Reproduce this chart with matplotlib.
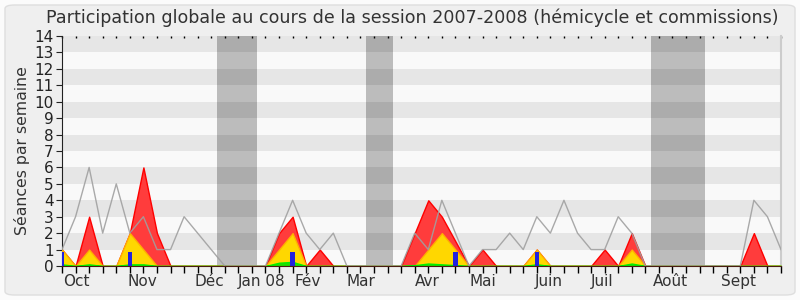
import matplotlib
matplotlib.use("Agg")
import matplotlib.pyplot as plt
from matplotlib.patches import Rectangle, FancyBboxPatch
import numpy as np

weeks = list(range(54))
# total séances (gray line)
total = [1, 3, 6, 2, 5, 2, 3, 1, 1, 3, 2, 1, 0, 0, 0, 0, 2, 4, 2, 1, 2, 0, 0, 0, 0, 0,
         2, 1, 4, 2, 0, 1, 1, 2, 1, 3, 2, 4, 2, 1, 1, 3, 2, 0, 0, 0, 0, 0, 0, 0, 0, 4, 3, 1]
# présence (red)
presence = [1, 0, 3, 0, 0, 2, 6, 2, 0, 0, 0, 0, 0, 0, 0, 0, 2, 3, 0, 1, 0, 0, 0, 0, 0, 0,
            2, 4, 3, 1.5, 0, 1, 0, 0, 0, 1, 0, 0, 0, 0, 1, 0, 2, 0, 0, 0, 0, 0, 0, 0, 0, 2, 0, 0]
# yellow series
yellow = [1, 0, 1, 0, 0, 2, 1, 0, 0, 0, 0, 0, 0, 0, 0, 0, 1, 2, 0, 0, 0, 0, 0, 0, 0, 0,
          0, 1, 2, 1, 0, 0, 0, 0, 0, 1, 0, 0, 0, 0, 0, 0, 1, 0, 0, 0, 0, 0, 0, 0, 0, 0, 0, 0]
# green series
green = [0.1, 0, 0.1, 0, 0, 0.1, 0.1, 0, 0, 0, 0, 0, 0, 0, 0, 0, 0.2, 0.25, 0, 0, 0, 0, 0, 0, 0, 0,
         0.05, 0.15, 0.1, 0.05, 0, 0, 0, 0, 0, 0.1, 0, 0, 0, 0, 0, 0, 0.15, 0, 0, 0, 0, 0, 0, 0, 0, 0, 0, 0]
# blue bars
bar_weeks = [0, 5, 17, 29, 35]
bar_values = [0.87, 0.87, 0.87, 0.87, 0.87]
# vacation periods (in weeks)
vacations = [(11.4, 14.4), (22.4, 24.4), (43.4, 47.4)]
month_pos = [1.05, 5.9, 10.85, 14.7, 18.1, 22.05, 26.9, 31.05, 35.85, 39.8, 44.85, 49.9]
month_labels = ["Oct", "Nov", "Déc", "Jan 08", "Fév", "Mar", "Avr", "Mai", "Juin", "Juil", "Août", "Sept"]
ymax = 14

plt.rcParams['font.family'] = ['DejaVu Sans']
fig = plt.figure(figsize=(8, 3), dpi=100, facecolor='#fbfbfb')
fig.patches.append(FancyBboxPatch((5/800, 5/300), 790/800, 290/300,
                                  boxstyle="round,pad=0,rounding_size=0.012",
                                  transform=fig.transFigure, facecolor='#efefef',
                                  edgecolor='#dedede', linewidth=1, zorder=-10))
ax = fig.add_axes([62/800, 34/300, 719/800, 230/300])
ax.set_xlim(0, 53)
ax.set_ylim(0, ymax)
ax.set_facecolor('#f9f9f9')

# stripes
for k in range(1, ymax, 2):
    ax.axhspan(k, k + 1, color='#e6e6e6', lw=0, zorder=0)
# vacations
for a, b in vacations:
    ax.axvspan(a, b, color='#bcbcbc', lw=0, zorder=1)
    for k in range(1, ymax, 2):
        ax.add_patch(Rectangle((a, k), b - a, 1, facecolor='#acacac', lw=0, zorder=1.1))

w = np.array(weeks)
ax.fill_between(w, presence, 0, facecolor='#ff3c3c', edgecolor='#ff0000', lw=1, zorder=2)
ax.fill_between(w, yellow, 0, facecolor='#ffd700', edgecolor='#ffb000', lw=1, zorder=3)
ax.fill_between(w, green, 0, facecolor='#22dd00', edgecolor='#00ee00', lw=1, zorder=4)
ax.plot(w, total, color='#a0a0a0', lw=1, zorder=5, alpha=0.9)
ax.bar(bar_weeks, bar_values, width=0.33, color='#2222dd', zorder=6)

ax.set_yticks(range(0, ymax + 1))
ax.tick_params(axis='y', labelsize=11, length=4, pad=2, colors='#222222')
ax.set_xticks(weeks)
ax.set_xticklabels([])
ax.tick_params(axis='x', which='major', length=5, width=1, direction='out', top=True)
ax.set_xticks(month_pos, minor=True)
ax.set_xticklabels(month_labels, minor=True)
ax.tick_params(axis='x', which='minor', length=0, pad=6, labelsize=11, labelcolor='#333333')
for t in ax.xaxis.get_major_ticks():
    t.tick2line.set_markersize(1.5)
    t.tick2line.set_marker(matplotlib.markers.TICKDOWN)

ax.spines['top'].set_visible(False)
ax.spines['right'].set_color('#cccccc')
ax.spines['right'].set_linewidth(1.5)
ax.spines['bottom'].set_color('#4a1c10')
ax.spines['bottom'].set_zorder(7)
ax.spines['left'].set_color('#222222')

ax.set_ylabel('Séances par semaine', fontsize=11.3, color='#333333', labelpad=3)
fig.text(0.515, 0.94, 'Participation globale au cours de la session 2007-2008 (hémicycle et commissions)',
         ha='center', va='center', fontsize=12.6, color='#333333')

fig.savefig('out.png', dpi=100, facecolor=fig.get_facecolor())
